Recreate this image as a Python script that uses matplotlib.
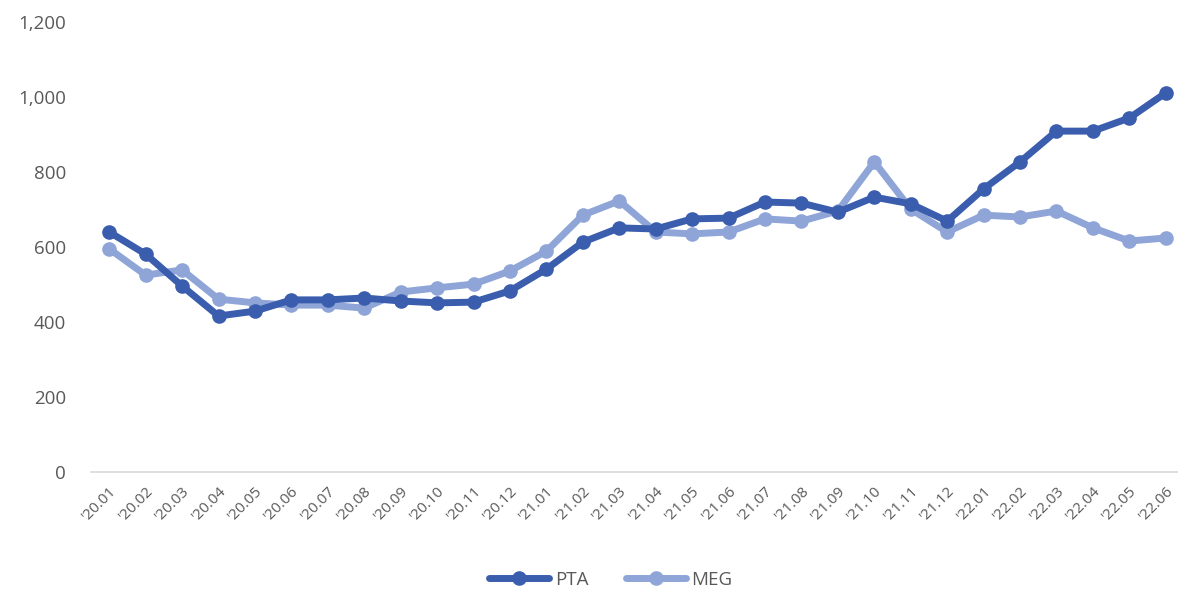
import matplotlib
matplotlib.use("Agg")
import matplotlib.pyplot as plt
from matplotlib.ticker import FuncFormatter

plt.rcParams['font.family'] = ['Open Sans', 'DejaVu Sans']

months = ["'20.01", "'20.02", "'20.03", "'20.04", "'20.05", "'20.06", "'20.07", "'20.08",
          "'20.09", "'20.10", "'20.11", "'20.12", "'21.01", "'21.02", "'21.03", "'21.04",
          "'21.05", "'21.06", "'21.07", "'21.08", "'21.09", "'21.10", "'21.11", "'21.12",
          "'22.01", "'22.02", "'22.03", "'22.04", "'22.05", "'22.06"]

pta = [640, 581, 496, 416, 429, 459, 459, 464, 456, 451, 453, 483, 541, 613, 651,
       648, 675, 677, 720, 717, 693, 733, 715, 669, 755, 827, 909, 909, 944, 1011]
meg = [595, 525, 539, 461, 451, 445, 445, 437, 480, 491, 501, 536, 589, 685, 723,
       640, 635, 640, 675, 669, 696, 827, 701, 640, 685, 680, 696, 651, 616, 624]

yticks = [0, 200, 400, 600, 800, 1000, 1200]

pta_color = '#3A5DAE'
meg_color = '#8FA5D8'
text_color = '#595959'

fig = plt.figure(figsize=(11.78, 5.92), dpi=100)
ax = fig.add_axes([91/1178, 120/592, (1184-91)/1178, 450/592])

x = list(range(len(months)))
ax.plot(x, pta, color=pta_color, lw=5, marker='o', ms=9.5, label='PTA', zorder=3,
        solid_capstyle='round')
ax.plot(x, meg, color=meg_color, lw=5, marker='o', ms=9.5, label='MEG', zorder=2,
        solid_capstyle='round')

ax.set_xlim(-0.5, len(months) - 0.5)
ax.set_ylim(0, 1200)
ax.set_yticks(yticks)
ax.yaxis.set_major_formatter(FuncFormatter(lambda v, p: f'{int(v):,}'))
ax.set_xticks(x)
ax.set_xticklabels(months, rotation=45, ha='right', rotation_mode='anchor')

for s in ['top', 'right', 'left']:
    ax.spines[s].set_visible(False)
ax.spines['bottom'].set_color('#D9D9D9')
ax.spines['bottom'].set_linewidth(1.2)
ax.tick_params(axis='y', length=0, pad=18, labelsize=13.5, labelcolor=text_color)
ax.tick_params(axis='x', length=0, pad=8, labelsize=11, labelcolor=text_color)

leg = fig.legend(loc='center', bbox_to_anchor=(611/1178, 1 - 580/592), ncol=2, frameon=False,
                 fontsize=13.5, handlelength=3.2, columnspacing=2.0, handletextpad=0.3)
for t in leg.get_texts():
    t.set_color(text_color)

fig.savefig('out.png', dpi=100)
